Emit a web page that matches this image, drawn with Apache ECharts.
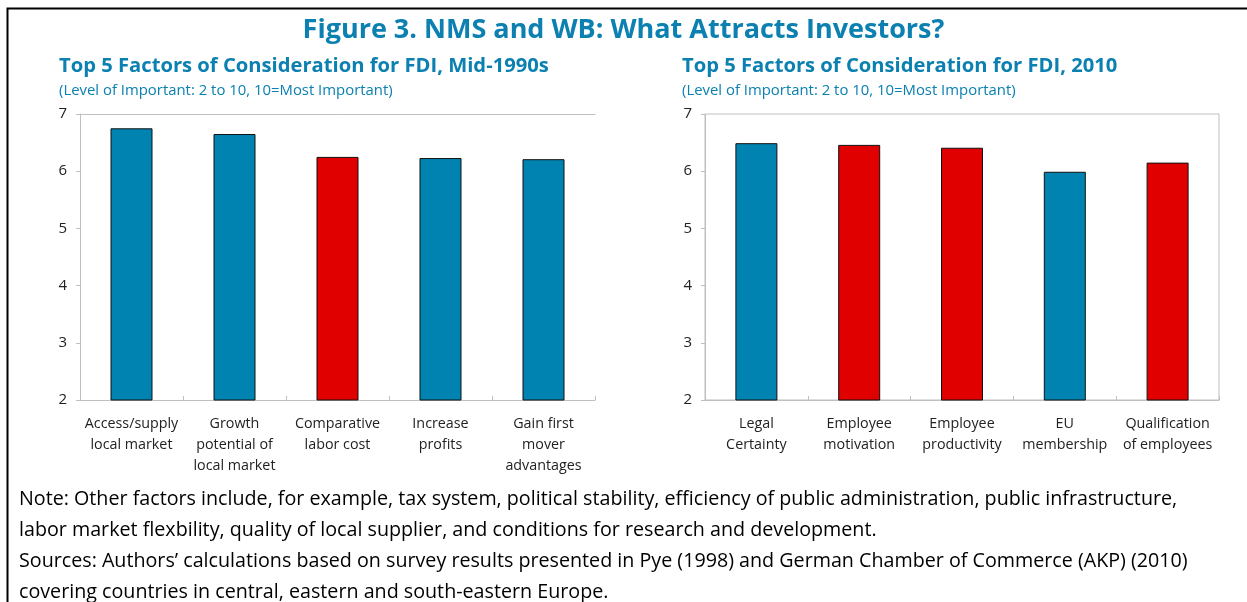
<!DOCTYPE html>
<html>
<head>
<meta charset="utf-8">
<script src="https://cdn.jsdelivr.net/npm/echarts@6/dist/echarts.min.js"></script>
<style>
html,body{margin:0;padding:0;background:#fff;}
#chart{width:1247px;height:602px;}
</style>
</head>
<body>
<div id="chart"></div>
<script>
// ---- data ----
const mainTitle = 'Figure 3. NMS and WB: What Attracts Investors?';
const leftTitle = 'Top 5 Factors of Consideration for FDI, Mid-1990s';
const rightTitle = 'Top 5 Factors of Consideration for FDI, 2010';
const unitNote = '(Level of Important: 2 to 10, 10=Most Important)';

const factors1990s = ['Access/supply\nlocal market', 'Growth\npotential of\nlocal market', 'Comparative\nlabor cost', 'Increase\nprofits', 'Gain first\nmover\nadvantages'];
const scores1990s = [6.75, 6.65, 6.25, 6.23, 6.21];
const laborRelated1990s = [false, false, true, false, false];

const factors2010 = ['Legal\nCertainty', 'Employee\nmotivation', 'Employee\nproductivity', 'EU\nmembership', 'Qualification\nof employees'];
const scores2010 = [6.49, 6.46, 6.41, 5.99, 6.15];
const laborRelated2010 = [false, true, true, false, true];

const yMin = 2, yMax = 7, yStep = 1;

const noteLines = [
  'Note: Other factors include, for example, tax system, political stability, efficiency of public administration, public infrastructure,',
  'labor market flexbility, quality of local supplier, and conditions for research and development.',
  'Sources: Authors\u2019 calculations based on survey results presented in Pye (1998) and German Chamber of Commerce (AKP) (2010)',
  'covering countries in central, eastern and south-eastern Europe.'
];

// ---- styles ----
const BLUE = '#0083b0';
const RED = '#e00000';
const TITLE_BLUE = '#0b80b1';
const AXIS_GREY = '#bfbfbf';
const TEXT = '#222';
const FONT = '"Open Sans", "Noto Sans", sans-serif';

function barData(vals, flags) {
  return vals.map((v, i) => ({
    value: v,
    itemStyle: { color: flags[i] ? RED : BLUE }
  }));
}

function yAxis(gridIndex) {
  return {
    type: 'value', gridIndex, min: yMin, max: yMax, interval: yStep,
    axisLine: { show: true, lineStyle: { color: AXIS_GREY, width: 1 } },
    axisTick: { show: true, inside: false, length: 4, lineStyle: { color: AXIS_GREY } },
    splitLine: { show: false },
    axisLabel: { color: TEXT, fontSize: 15, fontFamily: FONT, margin: 13 }
  };
}

function xAxis(gridIndex, cats) {
  return {
    type: 'category', gridIndex, data: cats,
    axisLine: { show: true, lineStyle: { color: AXIS_GREY, width: 1 } },
    axisTick: { show: true, inside: true, length: 4, lineStyle: { color: AXIS_GREY } },
    axisLabel: { color: TEXT, fontSize: 14.3, fontFamily: FONT, lineHeight: 21, margin: 13, interval: 0 }
  };
}

function topLine(gridIndex) {
  return {
    type: 'category', gridIndex, position: 'top', data: [],
    axisLine: { show: true, lineStyle: { color: AXIS_GREY, width: 1 } },
    axisTick: { show: false }, axisLabel: { show: false }
  };
}

const chart = echarts.init(document.getElementById('chart'), null, { renderer: 'canvas' });

chart.setOption({
  backgroundColor: '#fff',
  animation: false,
  title: [
    { text: mainTitle, left: 'center', top: 17, padding: 0,
      textStyle: { color: TITLE_BLUE, fontSize: 27, fontWeight: 'bold', fontFamily: FONT } },
    { text: leftTitle, subtext: unitNote, left: 59, top: 56, itemGap: 7, padding: 0,
      textStyle: { color: TITLE_BLUE, fontSize: 20.2, fontWeight: 'bold', fontFamily: FONT },
      subtextStyle: { color: TITLE_BLUE, fontSize: 14.9, fontFamily: FONT } },
    { text: rightTitle, subtext: unitNote, left: 682, top: 56, itemGap: 7, padding: 0,
      textStyle: { color: TITLE_BLUE, fontSize: 20.2, fontWeight: 'bold', fontFamily: FONT },
      subtextStyle: { color: TITLE_BLUE, fontSize: 14.9, fontFamily: FONT } },
    { text: noteLines.join('\n'), left: 19, top: 484, padding: 0,
      textStyle: { color: '#000', fontSize: 19.7, fontWeight: 'normal', lineHeight: 31, fontFamily: FONT } }
  ],
  grid: [
    { left: 80, right: 652, top: 114, bottom: 202 },
    { left: 705, right: 28, top: 114, bottom: 202, show: true, borderColor: AXIS_GREY, borderWidth: 1 }
  ],
  xAxis: [xAxis(0, factors1990s), xAxis(1, factors2010), topLine(0)],
  yAxis: [yAxis(0), yAxis(1)],
  series: [
    { type: 'bar', xAxisIndex: 0, yAxisIndex: 0, barWidth: 42,
      data: barData(scores1990s, laborRelated1990s),
      itemStyle: { borderColor: '#111', borderWidth: 1 } },
    { type: 'bar', xAxisIndex: 1, yAxisIndex: 1, barWidth: 42,
      data: barData(scores2010, laborRelated2010),
      itemStyle: { borderColor: '#111', borderWidth: 1 } }
  ],
  graphic: [
    { type: 'rect', left: 5, top: 6, shape: { x: 0, y: 0, width: 1300, height: 700 },
      style: { fill: 'none', stroke: '#000', lineWidth: 2 }, silent: true, z: 100 }
  ]
});
</script>
</body>
</html>
